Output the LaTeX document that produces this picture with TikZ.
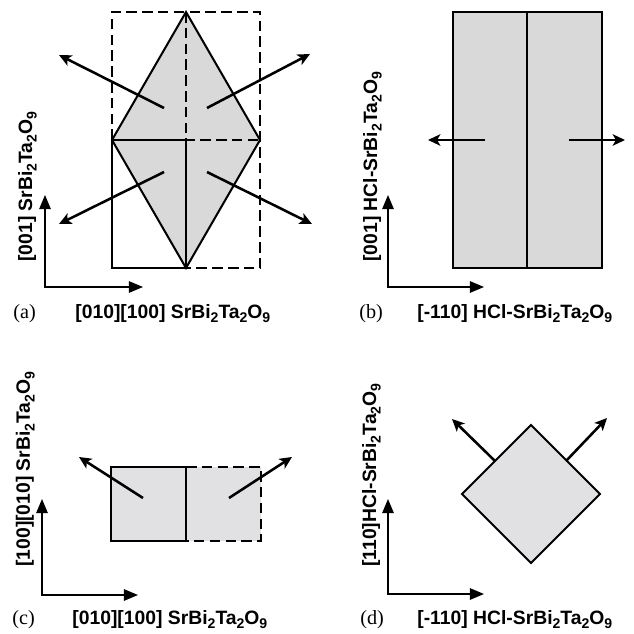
\documentclass[tikz,border=0pt]{standalone}
\usepackage{fontspec}
\setmainfont{Liberation Serif}
\setsansfont{Liberation Sans}
\usetikzlibrary{arrows.meta}
\definecolor{cellgray}{RGB}{217, 217, 217}
\definecolor{palegray}{RGB}{225, 225, 227}
\newcommand{\lowsub}[1]{\raisebox{-0.45ex}{\fontsize{8}{9}\selectfont #1}}
\newcommand{\sbt}{SrBi\lowsub{2}Ta\lowsub{2}O\lowsub{9}}

\begin{document}
\begin{tikzpicture}[x=0.02cm, y=-0.02cm,
  cell/.style={line width=1.15pt, line join=miter},
  dashcell/.style={line width=1.15pt, dash pattern=on 6pt off 3pt},
  growth/.style={line width=1.45pt, -{Stealth[length=7pt, width=6.5pt, inset=1.8pt]}},
  axis/.style={line width=0.8pt, line join=miter, {Triangle[length=8pt, width=6.5pt]}-{Triangle[length=8pt, width=6.5pt]}},
  axlabel/.style={inner sep=0pt, anchor=base west, font=\sffamily\bfseries\fontsize{11}{13}\selectfont},
  panel/.style={inner sep=0pt, anchor=base west, font=\fontsize{11.5}{13}\selectfont}]
  \useasboundingbox (0,0) rectangle (634,634);

  % 坐标轴
  \foreach \p/\ox/\oy/\yy/\xx in {a/45/287/195/143, b/388/287/195/484, c/42/595/499/138, d/388/594/499/484} {
    \coordinate (o\p) at (\ox,\oy);
    \coordinate (y\p) at (\ox,\yy);
    \coordinate (x\p) at (\xx,\oy);
    \draw[axis] (y\p) -- (o\p) -- (x\p);
  }

  % (a) 菱形晶胞
  \fill[cellgray] (186,12) -- (260,140) -- (186,268) -- (112,140) -- cycle;
  \draw[dashcell] (112,140) -- (112,12) -- (260,12) -- (260,268) -- (186,268);
  \draw[dashcell] (186,12) -- (186,140) -- (260,140);
  \draw[cell] (186,140) -- (112,140) -- (112,268) -- (186,268) -- cycle;
  \draw[cell] (186,12) -- (260,140) -- (186,268) -- (112,140) -- cycle;

  % (b) 矩形晶胞
  \fill[cellgray] (453,12) rectangle (602,268);
  \draw[cell] (453,12) rectangle (602,268);
  \draw[cell] (527,12) -- (527,268);

  % (c) 半虚线矩形
  \fill[palegray] (111,467) rectangle (261,541);
  \draw[cell] (186,467) -- (111,467) -- (111,541) -- (186,541) -- cycle;
  \draw[dashcell] (186,467) -- (261,467) -- (261,541) -- (186,541);

  % (d) 方块
  \fill[palegray, draw=black, cell] (531,425) -- (600,494) -- (531,563) -- (462,494) -- cycle;

  % 生长方向
  \foreach \sx/\sy/\ex/\ey in {164/108/59/55, 207/108/310/54, 164/172/59/224, 207/172/312/224,
      485/140/428/140, 569/140/625/140,
      143/498/79/457, 229/498/292/457,
      495/461/452/419, 566/461/607/418}
    \draw[growth] (\sx,\sy) -- (\ex,\ey);

  % 标签
  \node[panel] (pa) at (13,318) {(a)};
  \node[panel] (pb) at (359,318) {(b)};
  \node[panel] (pc) at (12,624) {(c)};
  \node[panel] (pd) at (360,624) {(d)};
  \node[axlabel] (xla) at (75,318) {[010][100] \sbt};
  \node[axlabel] (xlb) at (417,318) {[-110] HCl-\sbt};
  \node[axlabel] (xlc) at (72,624) {[010][100] \sbt};
  \node[axlabel] (xld) at (417,624) {[-110] HCl-\sbt};
  \node[axlabel, rotate=90] (yla) at (32,262) {[001] \sbt};
  \node[axlabel, rotate=90] (ylb) at (377,262) {[001] HCl-\sbt};
  \node[axlabel, rotate=90] (ylc) at (30,567) {[100][010] \sbt};
  \node[axlabel, rotate=90] (yld) at (376,567) {[110]HCl-\sbt};
\end{tikzpicture}
\end{document}
